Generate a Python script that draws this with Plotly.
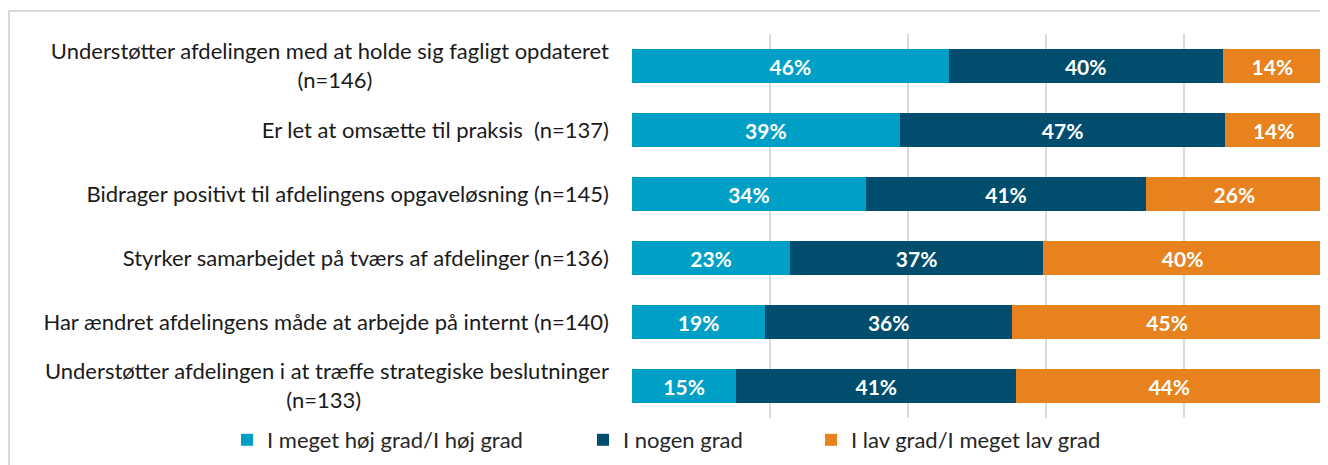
import plotly.graph_objects as go

categories = [
    "Understøtter afdelingen med at holde sig fagligt opdateret<br>(n=146)",
    "Er let at omsætte til praksis\u00a0 (n=137)",
    "Bidrager positivt til afdelingens opgaveløsning (n=145)",
    "Styrker samarbejdet på tværs af afdelinger (n=136)",
    "Har ændret afdelingens måde at arbejde på internt (n=140)",
    "Understøtter afdelingen i at træffe strategiske beslutninger<br>(n=133)",
]
series_names = ["I meget høj grad/I høj grad", "I nogen grad", "I lav grad/I meget lav grad"]
high = [45.9, 38.8, 33.9, 22.9, 19.3, 15.1]
some = [39.7, 47.2, 40.6, 36.7, 35.8, 40.6]
low = [14.4, 14.0, 25.6, 40.4, 44.9, 44.3]
colors = ["#00A0C6", "#004D6D", "#E7821E"]

FONT = "Lato, 'Open Sans', sans-serif"


def center_lines(label):
    # center the second line under the first by padding with non-breaking spaces
    parts = label.split("<br>")
    if len(parts) == 1:
        return label
    first, second = parts
    pad = int((len(first) - len(second)) * 0.84)
    return first + "<br>" + second + "\u00a0" * pad


cat_labels = [center_lines(c) for c in categories]

fig = go.Figure()
legends = ["legend", "legend2", "legend3"]
for name, vals, col, lg in zip(series_names, [high, some, low], colors, legends):
    fig.add_trace(go.Bar(
        y=cat_labels, x=vals, name=name, orientation="h",
        marker=dict(color=col, line=dict(width=0)),
        text=vals, texttemplate="<b>%{x:.0f}%</b>", textposition="inside",
        insidetextanchor="middle", textangle=0,
        textfont=dict(color="white", size=21, family=FONT),
        legend=lg, hoverinfo="skip",
    ))

# page body has an 8px margin, so the figure is drawn offset by (8, 8)
OFF = 8
W, H = 1328 - OFF, 465 - OFF
L, R, T, B = 632 - OFF, 6, 34 - OFF, 465 - 418
pw, ph = W - L - R, H - T - B


def px_x(x):
    return (x - OFF - L) / pw


def px_y(y):
    return (H - B - (y - OFF)) / ph


leg_common = dict(orientation="h", yanchor="middle", xanchor="left",
                  font=dict(size=22, family=FONT, color="#262626"),
                  bgcolor="rgba(0,0,0,0)", itemwidth=30)

fig.update_layout(
    width=W, height=H,
    margin=dict(l=L, r=R, t=T, b=B, pad=0, autoexpand=False),
    barmode="stack", bargap=0.48,
    plot_bgcolor="white", paper_bgcolor="white",
    font=dict(family=FONT, size=22, color="#262626"),
    xaxis=dict(range=[0, 100], dtick=20, showticklabels=False, showgrid=True,
               gridcolor="#D9D9D9", gridwidth=1.5, zeroline=False, showline=False,
               fixedrange=True, automargin=False),
    yaxis=dict(autorange="reversed", showgrid=False, zeroline=False, showline=False,
               ticks="", ticklabelstandoff=22, automargin=False,
               tickfont=dict(size=22, family=FONT, color="#1a1a1a")),
    legend=dict(x=px_x(227), y=px_y(440), **leg_common),
    legend2=dict(x=px_x(583), y=px_y(440), **leg_common),
    legend3=dict(x=px_x(811), y=px_y(440), **leg_common),
    shapes=[dict(type="rect", xref="paper", yref="paper",
                 x0=px_x(9), x1=px_x(1340), y0=px_y(480), y1=px_y(11),
                 line=dict(color="#D9D9D9", width=2), layer="above")],
    showlegend=True,
)

fig.write_html("out.html")
